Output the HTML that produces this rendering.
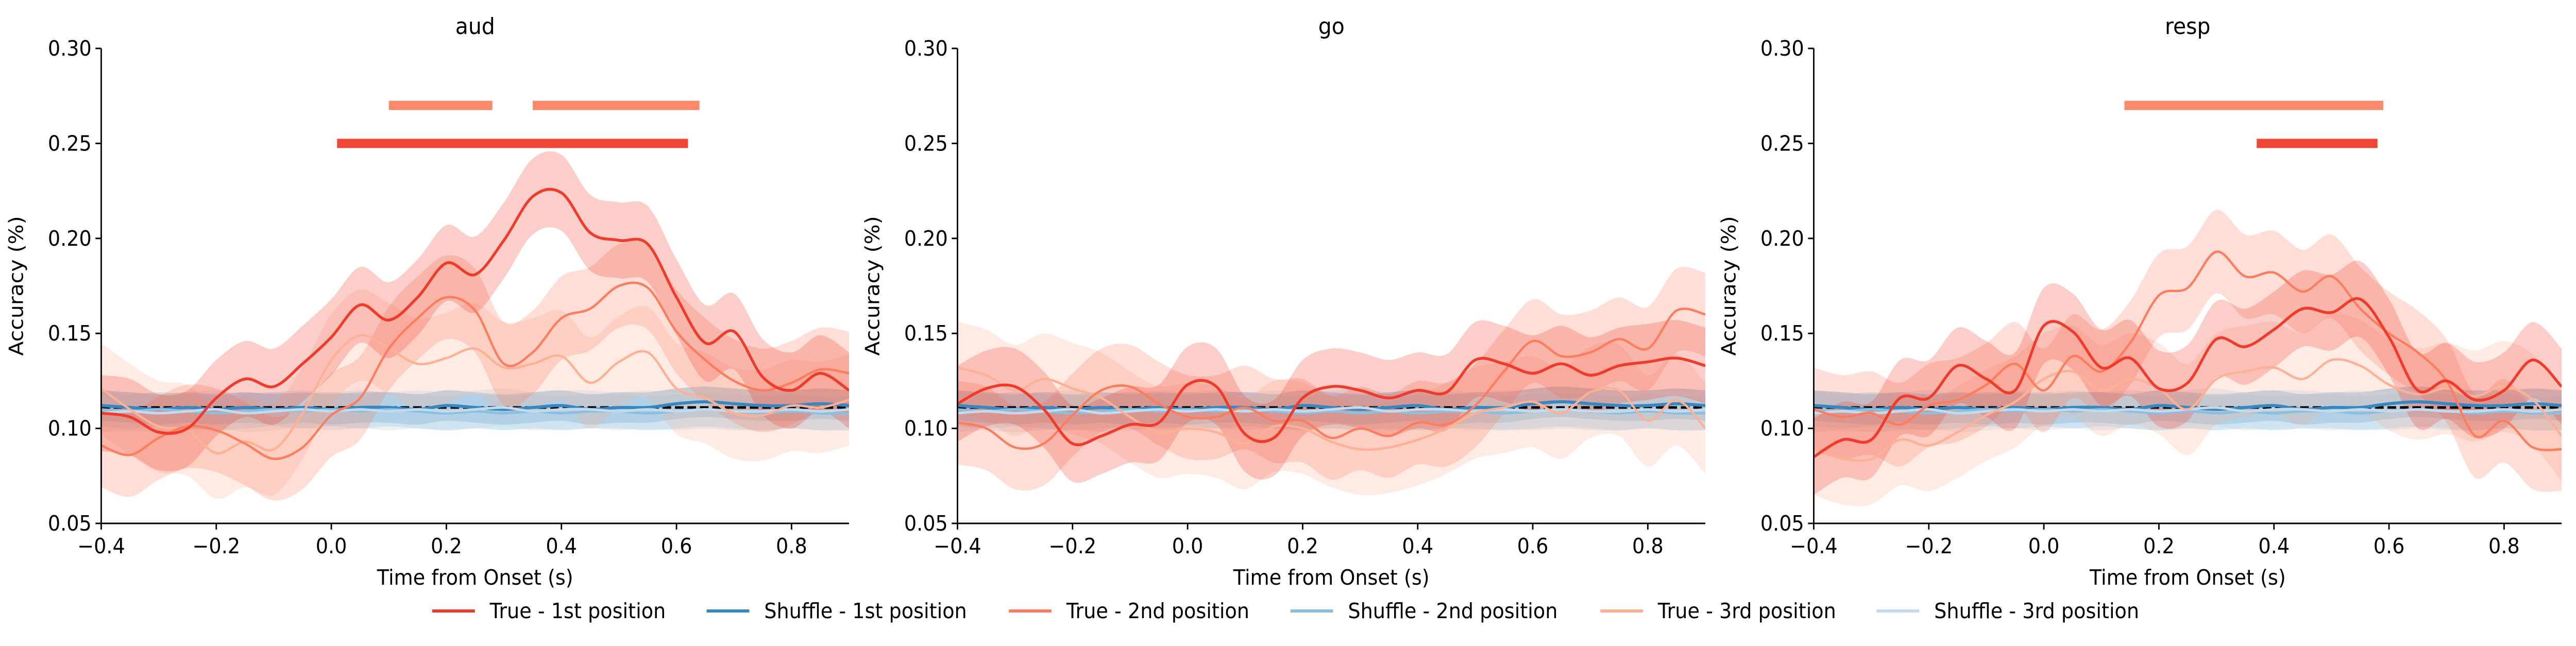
<!DOCTYPE html>
<html><head><meta charset="utf-8">
<style>
html,body{margin:0;padding:0;background:#fff;width:100%;height:100%;overflow:hidden;}
svg{display:block;position:absolute;left:0;top:0;width:100vw;height:100vh;font-family:"DejaVu Sans","Liberation Sans",sans-serif;}
</style></head>
<body>
<svg id="chart" viewBox="0 0 5370 1254" preserveAspectRatio="none" xmlns="http://www.w3.org/2000/svg"></svg>
<script>
const times = [-0.4,-0.35,-0.3,-0.25,-0.2,-0.15,-0.1,-0.05,0.0,0.05,0.1,0.15,0.2,0.25,0.3,0.35,0.4,0.45,0.5,0.55,0.6,0.65,0.7,0.75,0.8,0.85,0.9];
const xTicks = [-0.4,-0.2,0.0,0.2,0.4,0.6,0.8];
const xTickLabels = ["\u22120.4","\u22120.2","0.0","0.2","0.4","0.6","0.8"];
const yTicks = [0.05,0.10,0.15,0.20,0.25,0.30];
const yTickLabels = ["0.05","0.10","0.15","0.20","0.25","0.30"];
const panelTitles = ["aud","go","resp"];
const chanceLevel = 0.111;

const audTrue1 = [0.108,0.106,0.098,0.100,0.116,0.126,0.122,0.134,0.148,0.165,0.157,0.169,0.187,0.181,0.199,0.222,0.224,0.203,0.199,0.197,0.169,0.145,0.151,0.127,0.120,0.129,0.120];
const audTrue2 = [0.091,0.086,0.095,0.101,0.099,0.092,0.084,0.090,0.107,0.116,0.142,0.158,0.169,0.162,0.134,0.140,0.158,0.163,0.175,0.174,0.151,0.136,0.125,0.120,0.124,0.131,0.129];
const audTrue3 = [0.121,0.110,0.101,0.099,0.087,0.093,0.089,0.108,0.136,0.149,0.142,0.134,0.137,0.142,0.132,0.134,0.138,0.124,0.135,0.140,0.121,0.116,0.108,0.107,0.112,0.111,0.115];
const goTrue1 = [0.113,0.121,0.122,0.110,0.092,0.096,0.102,0.103,0.123,0.122,0.097,0.095,0.116,0.122,0.120,0.116,0.120,0.119,0.136,0.134,0.129,0.134,0.128,0.133,0.135,0.137,0.133];
const goTrue2 = [0.103,0.100,0.090,0.092,0.107,0.120,0.122,0.113,0.106,0.106,0.111,0.104,0.104,0.095,0.100,0.096,0.103,0.102,0.112,0.130,0.146,0.138,0.140,0.147,0.142,0.162,0.160];
const goTrue3 = [0.132,0.128,0.120,0.126,0.121,0.116,0.106,0.098,0.100,0.098,0.092,0.101,0.100,0.093,0.089,0.090,0.094,0.100,0.108,0.111,0.114,0.108,0.119,0.120,0.104,0.115,0.100];
const respTrue1 = [0.085,0.094,0.094,0.116,0.116,0.133,0.126,0.120,0.154,0.151,0.132,0.137,0.121,0.124,0.147,0.143,0.152,0.163,0.161,0.168,0.148,0.120,0.125,0.115,0.120,0.136,0.122];
const respTrue2 = [0.110,0.106,0.108,0.102,0.112,0.115,0.123,0.134,0.120,0.138,0.130,0.145,0.170,0.174,0.193,0.180,0.182,0.172,0.180,0.163,0.150,0.140,0.125,0.096,0.104,0.090,0.089];
const respTrue3 = [0.089,0.084,0.084,0.094,0.091,0.098,0.107,0.114,0.126,0.130,0.120,0.126,0.121,0.110,0.126,0.130,0.132,0.126,0.136,0.133,0.123,0.118,0.121,0.117,0.122,0.115,0.096];
const shuffle1 = [0.112,0.111,0.110,0.111,0.110,0.111,0.110,0.111,0.110,0.111,0.111,0.110,0.112,0.111,0.110,0.111,0.112,0.110,0.111,0.111,0.113,0.114,0.113,0.112,0.112,0.113,0.112];
const shuffle2 = [0.110,0.109,0.110,0.109,0.108,0.109,0.110,0.109,0.110,0.109,0.110,0.109,0.108,0.109,0.108,0.109,0.108,0.109,0.109,0.108,0.109,0.110,0.109,0.108,0.109,0.108,0.108];
const shuffle3 = [0.108,0.109,0.108,0.109,0.110,0.108,0.109,0.110,0.109,0.110,0.109,0.110,0.109,0.110,0.111,0.109,0.110,0.110,0.109,0.110,0.109,0.110,0.109,0.109,0.110,0.109,0.110];
const trueErr = [0.020,0.022,0.024];
const shuffleErr = [0.008,0.009,0.010];
const sigBars2nd = [[[0.10,0.28],[0.35,0.64]],[],[[0.14,0.59]]];
const sigBars1st = [[[0.01,0.62]],[],[[0.37,0.58]]];
const sigLevels = [0.27,0.25];

const panelData = [[audTrue1,audTrue2,audTrue3],[goTrue1,goTrue2,goTrue3],[respTrue1,respTrue2,respTrue3]];
const trueColors = ["#ef3b2c","#fb7d5d","#fcb195"];
const shuffleColors = ["#3787c0","#8bbfdd","#c3d9ec"];
const legendLabels = ["True - 1st position","Shuffle - 1st position","True - 2nd position","Shuffle - 2nd position","True - 3rd position","Shuffle - 3rd position"];
const legendColors = ["#ef3b2c","#3787c0","#fb7d5d","#8bbfdd","#fcb195","#c3d9ec"];

const NS = "http://www.w3.org/2000/svg";
const svgEl = document.getElementById("chart");
function mk(tag, attrs, parent){const e=document.createElementNS(NS,tag);for(const k in attrs)e.setAttribute(k,attrs[k]);(parent||svgEl).appendChild(e);return e;}

const panelLeft = [211,1996,3781];
const axW = 1559, axTop = 94, axBottom = 1016;
function sx(p,t){return panelLeft[p] + (t+0.4)/1.3*axW;}
function sy(v){return axBottom - (v-0.05)/0.25*(axBottom-axTop);}
function smooth(pts){
  let d="M"+pts[0][0].toFixed(1)+","+pts[0][1].toFixed(1);
  for(let i=0;i<pts.length-1;i++){
    const p0=pts[Math.max(i-1,0)],p1=pts[i],p2=pts[i+1],p3=pts[Math.min(i+2,pts.length-1)];
    const c1=[p1[0]+(p2[0]-p0[0])/6,p1[1]+(p2[1]-p0[1])/6];
    const c2=[p2[0]-(p3[0]-p1[0])/6,p2[1]-(p3[1]-p1[1])/6];
    d+="C"+c1[0].toFixed(1)+","+c1[1].toFixed(1)+" "+c2[0].toFixed(1)+","+c2[1].toFixed(1)+" "+p2[0].toFixed(1)+","+p2[1].toFixed(1);
  }
  return d;
}
function bandPath(p,vals,err){
  const up=vals.map((v,i)=>[sx(p,times[i]),sy(v+err)]);
  const lo=vals.map((v,i)=>[sx(p,times[i]),sy(v-err)]).reverse();
  let d=smooth(up);
  d+="L"+smooth(lo).slice(1)+"Z";
  return d;
}

for(let p=0;p<3;p++){
  const g=mk("g",{});
  
  
  const clipId="clip"+p;
  const cp=mk("clipPath",{id:clipId},g);
  mk("rect",{x:panelLeft[p],y:axTop-40,width:axW,height:axBottom-axTop+40},cp);
  const plot=mk("g",{"clip-path":"url(#"+clipId+")"},g);
  const shuffles=[shuffle1,shuffle2,shuffle3];
  for(let s=0;s<3;s++){
    const b=mk("path",{d:bandPath(p,shuffles[s],shuffleErr[s]),fill:shuffleColors[s],"fill-opacity":0.35},plot);
    
    
  }
  for(let s=2;s>=0;s--){
    const b=mk("path",{d:bandPath(p,panelData[p][s],trueErr[s]),fill:trueColors[s],"fill-opacity":0.25},plot);
    
    
  }
  const ch=mk("line",{x1:panelLeft[p],x2:panelLeft[p]+axW,y1:sy(chanceLevel),y2:sy(chanceLevel),stroke:"#000","stroke-width":5,"stroke-dasharray":"18,8"},plot);
  
  
  for(let s=0;s<3;s++){
    const l=mk("path",{d:smooth(shuffles[s].map((v,i)=>[sx(p,times[i]),sy(v)])),fill:"none",stroke:shuffleColors[s],"stroke-width":s===0?6:5},plot);
    
    
  }
  for(let s=2;s>=0;s--){
    const l=mk("path",{d:smooth(panelData[p][s].map((v,i)=>[sx(p,times[i]),sy(v)])),fill:"none",stroke:trueColors[s],"stroke-width":s===0?5.5:4.5},plot);
    
    
  }
  sigBars2nd[p].forEach(b=>{
    const r=mk("rect",{x:sx(p,b[0]),y:sy(sigLevels[0])-9,width:sx(p,b[1])-sx(p,b[0]),height:18,fill:"#fb8a6a"},g);
    
    
  });
  sigBars1st[p].forEach(b=>{
    const r=mk("rect",{x:sx(p,b[0]),y:sy(sigLevels[1])-9,width:sx(p,b[1])-sx(p,b[0]),height:18,fill:"#f24634"},g);
    
    
  });
  const ya=mk("line",{x1:panelLeft[p],x2:panelLeft[p],y1:axTop,y2:axBottom+1.5,stroke:"#000","stroke-width":3},g);
  
  
  const xa=mk("line",{x1:panelLeft[p]-1.5,x2:panelLeft[p]+axW,y1:axBottom,y2:axBottom,stroke:"#000","stroke-width":3},g);
  
  
  yTicks.forEach((v,i)=>{
    mk("line",{x1:panelLeft[p]-12,x2:panelLeft[p],y1:sy(v),y2:sy(v),stroke:"#000","stroke-width":3},g);
    const t=mk("text",{x:panelLeft[p]-20,y:sy(v)+14,"text-anchor":"end","font-size":41,fill:"#000"},g);
    t.textContent=yTickLabels[i];
    
    
  });
  xTicks.forEach((v,i)=>{
    mk("line",{x1:sx(p,v),x2:sx(p,v),y1:axBottom,y2:axBottom+12,stroke:"#000","stroke-width":3},g);
    const t=mk("text",{x:sx(p,v),y:axBottom+58,"text-anchor":"middle","font-size":41,fill:"#000"},g);
    t.textContent=xTickLabels[i];
    
    
  });
  const ti=mk("text",{x:panelLeft[p]+axW/2,y:66,"text-anchor":"middle","font-size":44,fill:"#000"},g);
  ti.textContent=panelTitles[p];
  
  
  const xl=mk("text",{x:panelLeft[p]+axW/2,y:1135,"text-anchor":"middle","font-size":41,fill:"#000"},g);
  xl.textContent="Time from Onset (s)";
  
  
  const yl=mk("text",{x:0,y:0,transform:"translate("+(panelLeft[p]-163)+","+((axTop+axBottom)/2)+") rotate(-90)","text-anchor":"middle","font-size":41,fill:"#000"},g);
  yl.textContent="Accuracy (%)";
  
  
}

const legendX = [901,1473,2103,2690,3336,3912];
legendLabels.forEach((lab,i)=>{
  const g=mk("g",{});
  
  
  mk("line",{x1:legendX[i],x2:legendX[i]+89,y1:1186,y2:1186,stroke:legendColors[i],"stroke-width":6},g);
  const t=mk("text",{x:legendX[i]+120,y:1200,"font-size":41,fill:"#000"},g);
  t.textContent=lab;
});
</script>
</body></html>
